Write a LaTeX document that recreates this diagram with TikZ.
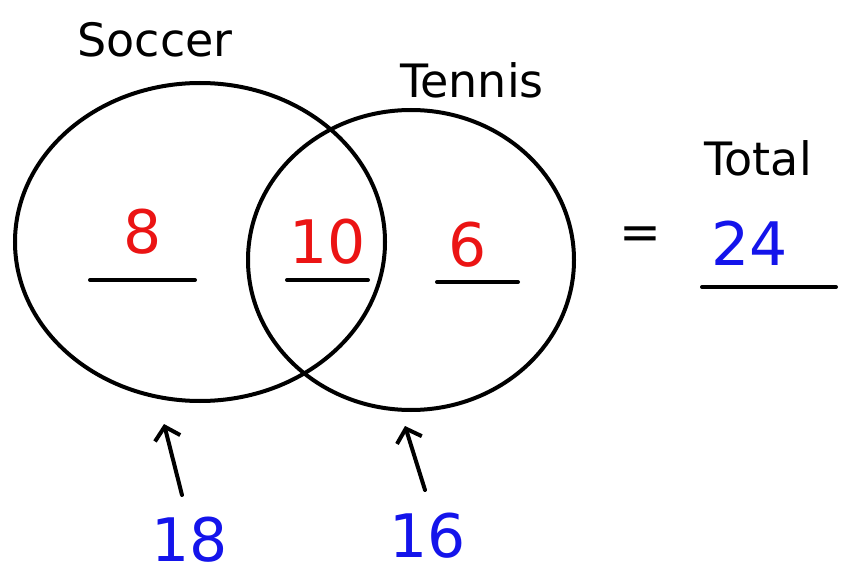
\documentclass[tikz,border=0pt]{standalone}
\usepackage{fontspec}
\setmainfont{DejaVu Sans}
\usetikzlibrary{shapes.geometric,arrows.meta}
\definecolor{hred}{RGB}{235,20,20}
\definecolor{hblue}{RGB}{20,20,235}
\begin{document}
\begin{tikzpicture}[x=1pt,y=-1pt,
  ring/.style={draw=black,line width=4pt},
  uline/.style={draw=black,line width=4pt,line cap=round},
  arr/.style={draw=black,line width=4pt,line cap=round,-{Straight Barb[length=12pt,width=26pt]}},
  lab/.style={font=\fontsize{46}{46}\selectfont,text=black},
  rnum/.style={font=\fontsize{60}{60}\selectfont,text=hred},
  bnum/.style={font=\fontsize{60}{60}\selectfont,text=hblue}]
\useasboundingbox (0,0) rectangle (844,580);
\fill[white] (0,0) rectangle (844,580);
\node[ring,ellipse,minimum width=370pt,minimum height=318pt,inner sep=0pt] (soc) at (200,242) {};
\node[ring,ellipse,minimum width=326pt,minimum height=300pt,inner sep=0pt] (ten) at (411,260) {};
\node[lab] (tsoc) at (155,40) {Soccer};
\node[lab] (tten) at (472,80) {Tennis};
\node[lab] (ttot) at (758,158) {Total};
\node[rnum] (n8) at (143,232) {8};
\node[rnum] (n10) at (328,242) {10};
\node[rnum] (n6) at (468,245) {6};
\coordinate (u1a) at (90,280); \coordinate (u1b) at (195,280);
\coordinate (u2a) at (287,280); \coordinate (u2b) at (368,280);
\coordinate (u3a) at (437,282); \coordinate (u3b) at (518,282);
\draw[uline] (u1a) -- (u1b);
\draw[uline] (u2a) -- (u2b);
\draw[uline] (u3a) -- (u3b);
\node[font=\fontsize{50}{50}\selectfont] (eq) at (640,238) {=};
\node[bnum] (n24) at (750,243) {24};
\coordinate (u4a) at (702,287); \coordinate (u4b) at (836,287);
\draw[uline] (u4a) -- (u4b);
\node[bnum] (n18) at (190,540) {18};
\node[bnum] (n16) at (428,536) {16};
\coordinate (a1) at (182,495); \coordinate (a1t) at (164,424);
\coordinate (a2) at (425,490); \coordinate (a2t) at (405,426);
\draw[arr] (a1) -- (a1t);
\draw[arr] (a2) -- (a2t);
\end{tikzpicture}
\end{document}
